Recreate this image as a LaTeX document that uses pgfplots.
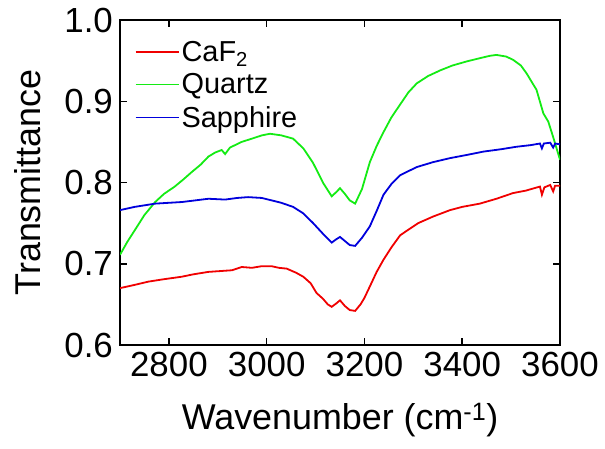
\documentclass[border=0pt]{standalone}
\usepackage{fontspec}
\setmainfont{Liberation Sans}
\usepackage{pgfplots}
\pgfplotsset{compat=1.18}
\definecolor{cafred}{RGB}{240,0,0}
\definecolor{qgreen}{RGB}{20,235,20}
\definecolor{sblue}{RGB}{0,0,220}
\begin{document}
\begin{tikzpicture}
\begin{axis}[
  scale only axis,
  width=440bp, height=325bp,
  xmin=2700, xmax=3600, ymin=0.6, ymax=1.0,
  xtick={2800,3000,3200,3400,3600},
  ytick={0.6,0.7,0.8,0.9,1.0},
  yticklabels={0.6,0.7,0.8,0.9,1.0},
  tick align=inside,
  tick pos=both,
  major tick length=7bp,
  every tick/.append style={black, line width=1.5bp},
  line width=1.6bp,
  /pgf/number format/assume math mode=true,
  /pgf/number format/1000 sep={},
  tick label style={font=\fontsize{35}{40}\selectfont},
  xticklabel style={yshift=-3bp},
  yticklabel style={xshift=-3bp},
  xlabel={Wavenumber (cm\textsuperscript{-1})},
  ylabel={Transmittance},
  every axis x label/.style={at={(axis description cs:0.5,-0.23)}, anchor=center,
    font=\fontsize{36}{40}\selectfont},
  every axis y label/.style={at={(axis description cs:-0.21,0.5)}, rotate=90, anchor=center,
    font=\fontsize{36}{40}\selectfont},
  legend style={draw=none, fill=none, at={(0.025,0.95)}, anchor=north west,
    font=\fontsize{29}{34}\selectfont, row sep=7bp,
    /tikz/every even column/.append style={column sep=2bp}},
  legend cell align=left,
  legend image code/.code={\draw[#1] (0bp,0bp) -- (43bp,0bp);},
  every axis plot/.append style={line width=1.8bp},
]
\addplot[cafred] coordinates {
(2700,0.670) (2730,0.674) (2758,0.678) (2790,0.681) (2826,0.684) (2850,0.687)
(2881,0.690) (2905,0.691) (2929,0.692) (2949,0.696) (2970,0.695) (2990,0.697)
(3010,0.697) (3025,0.695) (3041,0.694) (3060,0.689) (3075,0.684) (3090,0.676)
(3102,0.664) (3115,0.657) (3125,0.650) (3133,0.647) (3142,0.651) (3150,0.655)
(3160,0.648) (3170,0.643) (3181,0.642) (3192,0.650) (3200,0.658) (3211,0.672)
(3225,0.690) (3239,0.705) (3255,0.720) (3273,0.735) (3290,0.742) (3310,0.750)
(3340,0.758) (3375,0.766) (3400,0.770) (3436,0.774) (3470,0.780) (3504,0.787)
(3530,0.790) (3559,0.795) (3563,0.785) (3568,0.794) (3580,0.797) (3586,0.789)
(3590,0.796) (3600,0.796)
};
\addlegendentry{CaF\textsubscript{2}}
\addplot[qgreen] coordinates {
(2700,0.711) (2715,0.727) (2731,0.742) (2750,0.760) (2772,0.776) (2790,0.786)
(2812,0.795) (2830,0.804) (2847,0.813) (2865,0.822) (2881,0.832) (2895,0.837)
(2908,0.840) (2915,0.835) (2925,0.843) (2949,0.850) (2970,0.854) (2990,0.858)
(3007,0.860) (3030,0.858) (3054,0.854) (3075,0.842) (3095,0.824) (3116,0.799)
(3133,0.783) (3142,0.788) (3150,0.793) (3160,0.786) (3170,0.778) (3181,0.774)
(3195,0.792) (3211,0.825) (3225,0.845) (3239,0.862) (3255,0.880) (3273,0.896)
(3290,0.911) (3307,0.922) (3330,0.931) (3355,0.938) (3380,0.944) (3409,0.949)
(3436,0.953) (3457,0.956) (3470,0.957) (3490,0.955) (3504,0.951) (3520,0.944)
(3532,0.934) (3552,0.914) (3566,0.885) (3576,0.875) (3586,0.856) (3597,0.834)
(3600,0.828)
};
\addlegendentry{Quartz}
\addplot[sblue] coordinates {
(2700,0.766) (2730,0.770) (2772,0.774) (2827,0.776) (2881,0.780) (2915,0.779)
(2940,0.781) (2962,0.782) (2990,0.781) (3010,0.778) (3030,0.775) (3054,0.770)
(3075,0.762) (3095,0.750) (3115,0.737) (3133,0.726) (3142,0.730) (3150,0.733)
(3160,0.728) (3170,0.723) (3181,0.722) (3195,0.732) (3211,0.746) (3225,0.765)
(3239,0.785) (3255,0.798) (3273,0.809) (3307,0.819) (3340,0.825) (3375,0.830)
(3410,0.834) (3443,0.838) (3480,0.841) (3511,0.844) (3540,0.846) (3559,0.848)
(3563,0.842) (3567,0.848) (3580,0.849) (3586,0.843) (3590,0.848) (3600,0.847)
};
\addlegendentry{Sapphire}
\end{axis}
\path (current axis.south west) +(-120bp,-103bp) (current axis.north east) +(45bp,20bp);
\end{tikzpicture}
\end{document}
